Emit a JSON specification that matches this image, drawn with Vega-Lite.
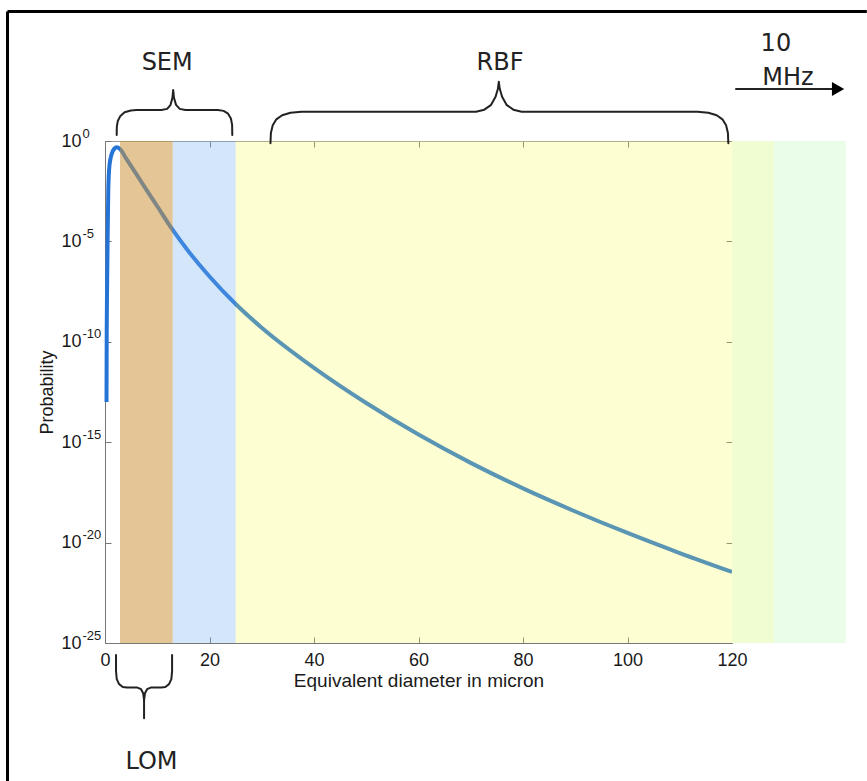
{
  "$schema": "https://vega.github.io/schema/vega-lite/v6.json",
  "width": 741,
  "height": 502,
  "autosize": {"type": "none"},
  "padding": {"left": 105, "top": 141, "right": 21, "bottom": 138},
  "background": "white",
  "config": {
    "view": {"stroke": null},
    "font": "Liberation Sans",
    "axis": {"grid": false, "domainColor": "#777", "tickColor": "#777", "labelColor": "#1a1a1a", "titleColor": "#1a1a1a", "labelFont": "Liberation Sans", "titleFont": "Liberation Sans", "titleFontWeight": "normal"}
  },
  "datasets": {
    "curve": [
      {"diameter": 0.29, "probability": 1e-13},
      {"diameter": 0.31, "probability": 1e-11},
      {"diameter": 0.33, "probability": 3.98e-10},
      {"diameter": 0.4, "probability": 5.01e-8},
      {"diameter": 0.48, "probability": 3.98e-6},
      {"diameter": 0.63, "probability": 3.63e-3},
      {"diameter": 0.86, "probability": 0.0631},
      {"diameter": 1.34, "probability": 0.251},
      {"diameter": 1.8, "probability": 0.417},
      {"diameter": 2.24, "probability": 0.49},
      {"diameter": 2.87, "probability": 0.398},
      {"diameter": 4, "probability": 0.141},
      {"diameter": 6, "probability": 0.0224},
      {"diameter": 8, "probability": 3.47e-3},
      {"diameter": 10, "probability": 5.62e-4},
      {"diameter": 12.96, "probability": 3.72e-5},
      {"diameter": 16, "probability": 3.16e-6},
      {"diameter": 20, "probability": 1.78e-7},
      {"diameter": 25, "probability": 7.59e-9},
      {"diameter": 30, "probability": 5.01e-10},
      {"diameter": 40, "probability": 5.01e-12},
      {"diameter": 50, "probability": 8.91e-14},
      {"diameter": 60, "probability": 2.4e-15},
      {"diameter": 70, "probability": 9.33e-17},
      {"diameter": 80, "probability": 5.01e-18},
      {"diameter": 90, "probability": 3.55e-19},
      {"diameter": 100, "probability": 3.02e-20},
      {"diameter": 110, "probability": 3.02e-21},
      {"diameter": 120, "probability": 3.47e-22}
    ],
    "bands": [
      {"band": "LOM", "from": 2.87, "to": 12.96},
      {"band": "SEM", "from": 12.96, "to": 25.0},
      {"band": "RBF", "from": 25.0, "to": 120},
      {"band": "10 MHz near", "from": 120, "to": 128},
      {"band": "10 MHz far", "from": 128, "to": 141.8}
    ],
    "braces": [
      {"piece": "SEM", "seq": 1, "x": 2.24, "level": 0.3},
      {"piece": "SEM", "seq": 2, "x": 2.26, "level": 0.7},
      {"piece": "SEM", "seq": 3, "x": 2.45, "level": 1.0},
      {"piece": "SEM", "seq": 4, "x": 2.95, "level": 1.25},
      {"piece": "SEM", "seq": 5, "x": 3.75, "level": 1.43},
      {"piece": "SEM", "seq": 6, "x": 4.95, "level": 1.52},
      {"piece": "SEM", "seq": 7, "x": 6.0, "level": 1.54},
      {"piece": "SEM", "seq": 8, "x": 10.8, "level": 1.54},
      {"piece": "SEM", "seq": 9, "x": 11.9, "level": 1.6},
      {"piece": "SEM", "seq": 10, "x": 12.55, "level": 1.8},
      {"piece": "SEM", "seq": 11, "x": 12.9, "level": 2.15},
      {"piece": "SEM", "seq": 12, "x": 13.05, "level": 2.54},
      {"piece": "SEM", "seq": 13, "x": 13.2, "level": 2.15},
      {"piece": "SEM", "seq": 14, "x": 13.6, "level": 1.8},
      {"piece": "SEM", "seq": 15, "x": 14.3, "level": 1.6},
      {"piece": "SEM", "seq": 16, "x": 15.4, "level": 1.54},
      {"piece": "SEM", "seq": 17, "x": 21.6, "level": 1.54},
      {"piece": "SEM", "seq": 18, "x": 22.7, "level": 1.5},
      {"piece": "SEM", "seq": 19, "x": 23.55, "level": 1.36},
      {"piece": "SEM", "seq": 20, "x": 24.1, "level": 1.12},
      {"piece": "SEM", "seq": 21, "x": 24.33, "level": 0.8},
      {"piece": "SEM", "seq": 22, "x": 24.36, "level": 0.3},
      {"piece": "RBF", "seq": 1, "x": 31.67, "level": -0.11},
      {"piece": "RBF", "seq": 2, "x": 31.75, "level": 0.4},
      {"piece": "RBF", "seq": 3, "x": 32.1, "level": 0.78},
      {"piece": "RBF", "seq": 4, "x": 32.8, "level": 1.08},
      {"piece": "RBF", "seq": 5, "x": 33.9, "level": 1.28},
      {"piece": "RBF", "seq": 6, "x": 35.5, "level": 1.41},
      {"piece": "RBF", "seq": 7, "x": 37.6, "level": 1.46},
      {"piece": "RBF", "seq": 8, "x": 71.0, "level": 1.46},
      {"piece": "RBF", "seq": 9, "x": 72.6, "level": 1.56},
      {"piece": "RBF", "seq": 10, "x": 73.9, "level": 1.8},
      {"piece": "RBF", "seq": 11, "x": 74.75, "level": 2.2},
      {"piece": "RBF", "seq": 12, "x": 75.2, "level": 2.6},
      {"piece": "RBF", "seq": 13, "x": 75.37, "level": 2.95},
      {"piece": "RBF", "seq": 14, "x": 75.55, "level": 2.6},
      {"piece": "RBF", "seq": 15, "x": 76.0, "level": 2.2},
      {"piece": "RBF", "seq": 16, "x": 76.85, "level": 1.8},
      {"piece": "RBF", "seq": 17, "x": 78.15, "level": 1.56},
      {"piece": "RBF", "seq": 18, "x": 79.75, "level": 1.46},
      {"piece": "RBF", "seq": 19, "x": 113.37, "level": 1.46},
      {"piece": "RBF", "seq": 20, "x": 115.47, "level": 1.41},
      {"piece": "RBF", "seq": 21, "x": 117.07, "level": 1.28},
      {"piece": "RBF", "seq": 22, "x": 118.17, "level": 1.08},
      {"piece": "RBF", "seq": 23, "x": 118.87, "level": 0.78},
      {"piece": "RBF", "seq": 24, "x": 119.22, "level": 0.4},
      {"piece": "RBF", "seq": 25, "x": 119.3, "level": -0.11},
      {"piece": "LOM", "seq": 1, "x": 2.11, "level": -25.6},
      {"piece": "LOM", "seq": 2, "x": 2.11, "level": -26.4},
      {"piece": "LOM", "seq": 3, "x": 2.25, "level": -26.8},
      {"piece": "LOM", "seq": 4, "x": 2.7, "level": -27.05},
      {"piece": "LOM", "seq": 5, "x": 3.4, "level": -27.19},
      {"piece": "LOM", "seq": 6, "x": 4.2, "level": -27.22},
      {"piece": "LOM", "seq": 7, "x": 6.2, "level": -27.22},
      {"piece": "LOM", "seq": 8, "x": 6.9, "level": -27.3},
      {"piece": "LOM", "seq": 9, "x": 7.3, "level": -27.5},
      {"piece": "LOM", "seq": 10, "x": 7.45, "level": -27.8},
      {"piece": "LOM", "seq": 11, "x": 7.475, "level": -27.86},
      {"piece": "LOM", "seq": 12, "x": 7.5, "level": -27.8},
      {"piece": "LOM", "seq": 13, "x": 7.65, "level": -27.5},
      {"piece": "LOM", "seq": 14, "x": 8.05, "level": -27.3},
      {"piece": "LOM", "seq": 15, "x": 8.75, "level": -27.22},
      {"piece": "LOM", "seq": 16, "x": 10.75, "level": -27.22},
      {"piece": "LOM", "seq": 17, "x": 11.55, "level": -27.19},
      {"piece": "LOM", "seq": 18, "x": 12.25, "level": -27.05},
      {"piece": "LOM", "seq": 19, "x": 12.7, "level": -26.8},
      {"piece": "LOM", "seq": 20, "x": 12.84, "level": -26.4},
      {"piece": "LOM", "seq": 21, "x": 12.84, "level": -25.6},
      {"piece": "LOM stem", "seq": 1, "x": 7.475, "level": -27.86},
      {"piece": "LOM stem", "seq": 2, "x": 7.475, "level": -28.75},
      {"piece": "arrow", "seq": 1, "x": 120.77, "level": 2.59},
      {"piece": "arrow", "seq": 2, "x": 139.4, "level": 2.59}
    ],
    "arrowhead": [{"x": 140.3, "level": 2.59}],
    "labels": [
      {"label": "SEM", "x": 11.9, "level": 3.88},
      {"label": "RBF", "x": 75.6, "level": 3.88},
      {"label": "10", "x": 128.4, "level": 4.82},
      {"label": "MHz", "x": 130.7, "level": 3.12},
      {"label": "LOM", "x": 8.9, "level": -30.95}
    ],
    "border": [
      {"edge": "top", "x": -18.66, "x2": 145.8, "level": 6.45, "level2": 6.45},
      {"edge": "left", "x": -18.66, "x2": -18.66, "level": 6.45, "level2": -31.87}
    ]
  },
  "layer": [
    {
      "resolve": {"axis": {"x": "independent", "y": "independent"}},
      "layer": [
        {
          "data": {"name": "curve"},
          "mark": {"type": "line", "strokeWidth": 4, "color": "#2474d6", "interpolate": "monotone"},
          "encoding": {
            "x": {"field": "diameter", "type": "quantitative", "scale": {"domain": [0, 120], "range": [0, 627], "nice": false, "zero": false},
              "axis": {"orient": "bottom", "values": [0, 20, 40, 60, 80, 100, 120], "title": "Equivalent diameter in micron", "titleFontSize": 19, "titlePadding": 2, "labelFontSize": 18, "labelPadding": 14, "tickSize": -6, "labelFlush": false, "labelOverlap": false}},
            "y": {"field": "probability", "type": "quantitative", "scale": {"type": "log", "domain": [1e-25, 1], "nice": false},
              "axis": {"orient": "left", "values": [1, 1e-5, 1e-10, 1e-15, 1e-20, 1e-25], "title": "Probability", "titleFontSize": 18, "titlePadding": 4, "labelFontSize": 18, "labelPadding": 30, "tickSize": -6, "labelFlush": false, "labelOverlap": false,
                "labelExpr": "'10'"}}
          }
        },
        {
          "data": {"name": "curve"},
          "mark": {"type": "point", "opacity": 0},
          "encoding": {
            "x": {"field": "diameter", "type": "quantitative", "axis": {"orient": "top", "values": [0, 20, 40, 60, 80, 100, 120], "labels": false, "title": null, "tickSize": -6, "domainColor": "#999"}},
            "y": {"field": "probability", "type": "quantitative", "axis": {"orient": "right", "offset": -114, "values": [1, 1e-5, 1e-10, 1e-15, 1e-20, 1e-25], "labels": false, "title": null, "tickSize": -6, "domainColor": "#999"}}
          }
        },
        {
          "data": {"name": "curve"},
          "mark": {"type": "point", "opacity": 0},
          "encoding": {
            "y": {"field": "probability", "type": "quantitative", "axis": {"orient": "left", "values": [1, 1e-5, 1e-10, 1e-15, 1e-20, 1e-25], "title": null, "ticks": false, "domain": false, "labelAlign": "left", "labelPadding": 23, "labelOffset": -8, "labelFontSize": 13, "labelFlush": false, "labelOverlap": false,
              "labelExpr": "datum.value > 0.1 ? '0' : datum.value > 1e-6 ? '-5' : datum.value > 1e-11 ? '-10' : datum.value > 1e-16 ? '-15' : datum.value > 1e-21 ? '-20' : '-25'"}}
          }
        },
        {
          "data": {"name": "bands"},
          "mark": {"type": "rect"},
          "encoding": {
            "x": {"field": "from", "type": "quantitative", "axis": null},
            "x2": {"field": "to"},
            "color": {"field": "band", "type": "nominal", "legend": null,
              "scale": {"domain": ["LOM", "SEM", "RBF", "10 MHz near", "10 MHz far"], "range": ["rgba(205,149,61,0.54)", "rgba(121,177,239,0.32)", "rgba(251,251,79,0.25)", "#f0fcd2", "#e9fde9"]}}
          }
        }
      ]
    },
    {
      "layer": [
        {
          "data": {"name": "braces"},
          "mark": {"type": "line", "strokeWidth": 2, "color": "#222", "strokeJoin": "round", "strokeCap": "round"},
          "encoding": {
            "x": {"field": "x", "type": "quantitative", "scale": {"domain": [0, 120], "range": [0, 627], "nice": false, "zero": false}, "axis": null},
            "y": {"field": "level", "type": "quantitative", "scale": {"domain": [-25, 0], "nice": false, "zero": false}, "axis": null},
            "detail": {"field": "piece"},
            "order": {"field": "seq", "type": "quantitative"}
          }
        },
        {
          "data": {"name": "arrowhead"},
          "mark": {"type": "point", "shape": "triangle-right", "filled": true, "color": "#000", "size": 200, "opacity": 1},
          "encoding": {
            "x": {"field": "x", "type": "quantitative", "axis": null},
            "y": {"field": "level", "type": "quantitative", "axis": null}
          }
        },
        {
          "data": {"name": "labels"},
          "mark": {"type": "text", "font": "DejaVu Sans", "fontSize": 24, "color": "#222", "align": "center", "baseline": "middle"},
          "encoding": {
            "x": {"field": "x", "type": "quantitative", "axis": null},
            "y": {"field": "level", "type": "quantitative", "axis": null},
            "text": {"field": "label"}
          }
        },
        {
          "data": {"name": "border"},
          "mark": {"type": "rule", "strokeWidth": 3, "color": "#000"},
          "encoding": {
            "x": {"field": "x", "type": "quantitative", "axis": null},
            "x2": {"field": "x2"},
            "y": {"field": "level", "type": "quantitative", "axis": null},
            "y2": {"field": "level2"}
          }
        }
      ]
    }
  ],
  "resolve": {"scale": {"y": "independent"}}
}
